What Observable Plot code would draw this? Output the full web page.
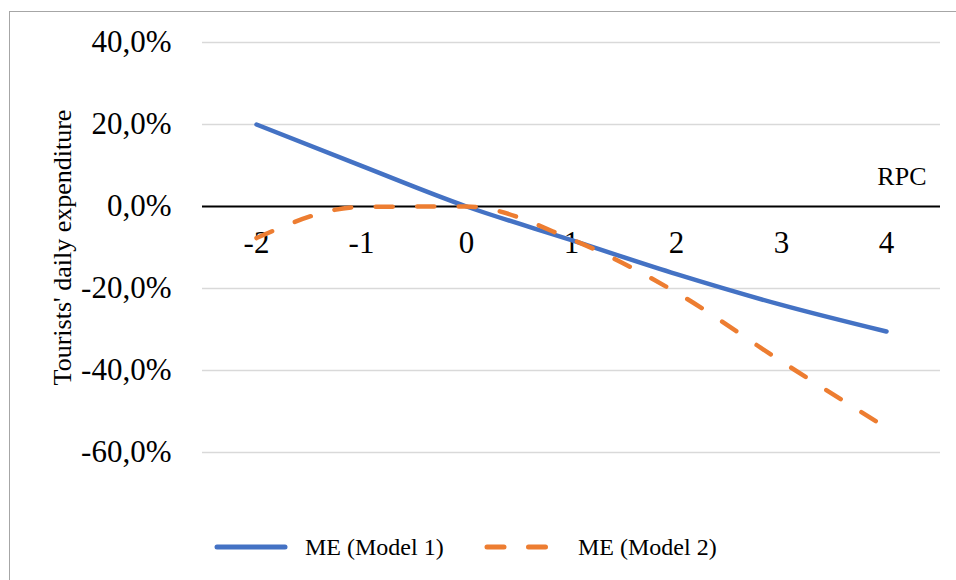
<!DOCTYPE html>
<html>
<head>
<meta charset="utf-8">
<script src="https://cdn.jsdelivr.net/npm/d3@7"></script>
<script src="https://cdn.jsdelivr.net/npm/@observablehq/plot@0.6"></script>
<style>
  html, body { margin: 0; padding: 0; background: #fff; overflow: hidden; }
  #wrap { position: relative; width: 956px; height: 580px; overflow: hidden; font-family: "Liberation Serif", "Times New Roman", serif; }
  #frame { position: absolute; left: 9px; top: 11px; width: 960px; height: 600px; border: 1.5px solid #a6a6a6; box-sizing: border-box; }
  #chart { position: absolute; left: 0; top: 0; }
  .leg { position: absolute; top: 547px; transform: translateY(-50%); font-size: 24px; color: #000; white-space: nowrap; line-height: 1; font-family: "Liberation Serif", serif; }
  .sw { position: absolute; top: 547px; transform: translateY(-50%); }
</style>
</head>
<body>
<div id="wrap">
  <div id="frame"></div>
  <div id="chart"></div>
  <svg class="sw" style="left:212px" width="80" height="10"><line x1="5" y1="5" x2="73" y2="5" stroke="#4472C4" stroke-width="5" stroke-linecap="round"/></svg>
  <div class="leg" style="left:305px">ME (Model 1)</div>
  <svg class="sw" style="left:480px" width="80" height="10"><line x1="7" y1="5" x2="71" y2="5" stroke="#ED7D31" stroke-width="5" stroke-linecap="round" stroke-dasharray="17,24.5"/></svg>
  <div class="leg" style="left:578px">ME (Model 2)</div>
</div>
<script>
const rpc = [-2, -1, 0, 1, 2, 3, 4];
const model1 = [20, 9.9, 0, -8.2, -16.5, -24, -30.5];
const model2 = [-7.7, -0.1, 0, -8, -21, -37.8, -54];
const yTicks = [-60, -40, -20, 0, 20, 40];
const seriesNames = ["ME (Model 1)", "ME (Model 2)"];
const yLabel = "Tourists' daily expenditure";
const xLabel = "RPC";

const data1 = rpc.map((x, i) => ({x, y: model1[i]}));
const data2 = rpc.map((x, i) => ({x, y: model2[i]}));
const fmt = d => d.toFixed(1).replace(".", ",") + "%";
const serif = "Liberation Serif, Times New Roman, serif";

const chart = Plot.plot({
  width: 956,
  height: 500,
  marginTop: 42,
  marginBottom: 48,
  marginLeft: 202,
  marginRight: 16,
  style: {fontFamily: serif, fontSize: "31px", color: "#000", background: "transparent", overflow: "visible"},
  x: {type: "point", domain: rpc, padding: 0.5, axis: null},
  y: {domain: [-60, 40], axis: null},
  marks: [
    Plot.gridY(yTicks.filter(d => d !== 0), {stroke: "#d9d9d9", strokeOpacity: 1, strokeWidth: 1.5}),
    Plot.axisY(yTicks, {tickSize: 0, tickPadding: 31, tickFormat: fmt, label: null, fontSize: 31, fontFamily: serif}),
    Plot.ruleY([0], {stroke: "#000", strokeWidth: 1.8}),
    Plot.text(rpc, {x: d => d, y: 0, dy: 37, text: d => String(d), fontSize: 31, fontFamily: serif}),
    Plot.text([xLabel], {x: () => 4, y: () => 0, dx: 40, dy: -30, textAnchor: "end", fontSize: 26, fontFamily: serif}),
    Plot.text([yLabel], {frameAnchor: "left", dx: -140, rotate: -90, textAnchor: "middle", fontSize: 26, fontFamily: serif, text: d => d}),
    Plot.line(data1, {x: "x", y: "y", stroke: "#4472C4", strokeWidth: 4.5, curve: "monotone-x", strokeLinecap: "round"}),
    Plot.line(data2, {x: "x", y: "y", stroke: "#ED7D31", strokeWidth: 4.5, curve: "monotone-x", strokeLinecap: "round", strokeDasharray: "17,24.5"})
  ]
});
document.getElementById("chart").appendChild(chart);
</script>
</body>
</html>
